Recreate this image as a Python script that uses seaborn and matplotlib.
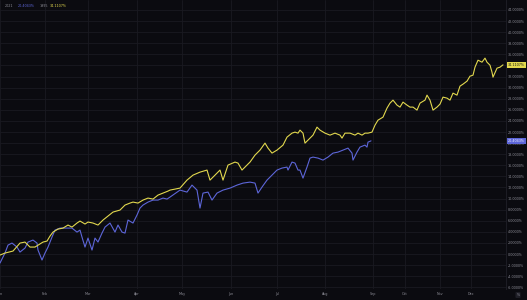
import matplotlib
matplotlib.use("Agg")
import matplotlib.pyplot as plt
import matplotlib.transforms as mtransforms
import seaborn as sns
import pandas as pd

# ---------------- data ----------------
sessions_1995 = [0, 5, 13, 20, 25, 30, 35, 43, 47, 50, 53, 58, 63, 68, 72, 77, 80, 85, 88, 93,
                 98, 103, 108, 113, 120, 125, 130, 133, 138, 143, 148, 153, 158, 163, 168, 170,
                 180, 187, 193, 200, 207, 210, 215, 220, 223, 228, 235, 238, 242, 245, 250, 255,
                 260, 265, 268, 272, 277, 283, 287, 292, 295, 298, 300, 303, 305, 308, 313, 317,
                 320, 325, 330, 335, 340, 342, 345, 350, 355, 358, 362, 365, 368, 372, 375, 378,
                 383, 387, 390, 393, 397, 400, 403, 407, 410, 413, 417, 420, 425, 427, 430, 433,
                 437, 440, 443, 447, 450, 453, 457, 460, 463, 467, 470, 473, 475, 478, 482, 485,
                 487, 490, 492, 493, 497, 500, 503]
pct_1995 = [-0.18, 0.18, 0.54, 1.98, 2.16, 1.26, 1.26, 2.16, 2.34, 3.24, 3.96, 4.50, 4.68, 5.23,
            4.86, 5.59, 5.95, 5.41, 5.77, 5.59, 5.23, 6.13, 6.85, 7.57, 7.93, 8.83, 9.19, 9.37,
            9.19, 9.73, 10.09, 9.91, 10.63, 10.99, 11.35, 11.53, 11.89, 13.33, 14.23, 14.77,
            15.14, 13.33, 14.23, 15.14, 13.33, 16.04, 16.58, 16.40, 15.14, 15.68, 16.58, 17.84,
            18.74, 20.00, 19.10, 18.20, 18.74, 19.64, 21.08, 21.80, 21.98, 21.80, 22.34, 21.80,
            20.00, 20.54, 21.44, 22.88, 22.34, 21.80, 21.44, 21.80, 21.44, 20.90, 21.80, 21.80,
            21.44, 21.80, 21.44, 21.80, 21.80, 21.98, 23.24, 24.14, 24.68, 26.31, 27.21, 27.75,
            26.85, 26.49, 27.39, 26.85, 26.49, 26.49, 25.95, 27.21, 27.75, 28.65, 27.75, 25.95,
            26.49, 27.03, 28.29, 28.11, 27.75, 29.01, 28.65, 30.27, 30.63, 31.17, 32.07, 32.25,
            33.69, 34.95, 34.59, 35.32, 34.59, 34.05, 32.79, 31.89, 33.51, 33.69, 34.1107]

sessions_2021 = [0, 5, 8, 12, 17, 20, 25, 28, 33, 37, 38, 42, 45, 48, 52, 55, 60, 65, 72, 77,
                 80, 82, 85, 88, 92, 95, 98, 102, 105, 110, 115, 118, 122, 125, 128, 133, 137,
                 140, 143, 148, 153, 158, 163, 167, 170, 180, 187, 192, 197, 200, 203, 208, 212,
                 217, 223, 230, 237, 243, 250, 255, 258, 262, 267, 272, 277, 282, 287, 288, 292,
                 295, 298, 300, 303, 307, 310, 313, 318, 323, 328, 333, 338, 343, 348, 352, 353,
                 357, 360, 365, 367, 368, 371]
pct_2021 = [-1.62, 0.18, 1.62, 1.98, 1.26, 0.36, 1.08, 2.16, 2.52, 1.98, 0.72, -1.08, 0.18, 1.26,
            3.06, 4.32, 4.68, 4.68, 4.68, 3.96, 4.32, 3.06, 1.26, 2.88, 0.72, 2.88, 2.16, 3.78,
            4.86, 5.59, 3.96, 5.23, 3.96, 3.78, 6.13, 5.59, 7.03, 8.29, 8.83, 9.37, 9.73, 9.73,
            10.09, 9.91, 10.27, 11.53, 11.17, 12.43, 11.53, 8.29, 10.99, 11.17, 9.73, 10.99,
            11.53, 11.89, 12.43, 12.79, 12.97, 12.79, 10.99, 12.07, 13.33, 14.23, 15.14, 15.50,
            15.68, 15.14, 16.58, 16.40, 15.14, 15.14, 13.69, 15.68, 17.30, 17.48, 17.30, 16.94,
            17.48, 18.20, 18.38, 18.74, 19.10, 18.20, 16.94, 18.38, 19.28, 19.64, 19.28, 20.18,
            20.4043]

month_labels = ["Jan", "Feb", "Mar", "Apr", "May", "Jun", "Jul", "Aug", "Sep", "Oct", "Nov", "Dec"]
month_sessions = [0, 45, 88, 137, 182, 231, 277, 325, 373, 405, 440, 471]

series_names = ["2021", "1995"]
last_values = ["20.4043%", "34.1107%"]

# ---------------- style ----------------
BG = "#0b0b10"
GRID = "#1a1a21"
TXT = "#8b8b95"
YELLOW = "#e2d84e"
BLUE = "#5d66d9"
FS = 2.4

sns.set_theme(style="dark")
plt.rcParams["font.family"] = ["DejaVu Sans"]

df = pd.concat([
    pd.DataFrame({"session": sessions_2021, "pct": pct_2021, "year": "2021"}),
    pd.DataFrame({"session": sessions_1995, "pct": pct_1995, "year": "1995"}),
], ignore_index=True)

fig = plt.figure(figsize=(5.27, 3.0), dpi=100, facecolor=BG)
ax = fig.add_axes([0, 11 / 300, 506 / 527, 289 / 300])
ax.set_facecolor(BG)

sns.lineplot(data=df, x="session", y="pct", hue="year",
             palette={"2021": BLUE, "1995": YELLOW},
             hue_order=["2021", "1995"], linewidth=0.8,
             estimator=None, sort=False, legend=False, ax=ax)

ax.set_xlim(0, 506)
ax.set_ylim(-6.3, 45.8)
ax.set_xlabel("")
ax.set_ylabel("")

yt = list(range(-6, 46, 2))
ax.yaxis.tick_right()
ax.set_yticks(yt)
ax.set_yticklabels([f"{v:.4f}%" for v in yt])
ax.set_xticks(month_sessions)
ax.set_xticklabels(month_labels)
ax.tick_params(axis="both", labelsize=FS, colors=TXT, length=0)
ax.tick_params(axis="y", pad=1.5)
ax.tick_params(axis="x", pad=2.5)

ax.grid(True, color=GRID, linewidth=0.6)
for s in ["top", "left", "bottom"]:
    ax.spines[s].set_visible(False)
ax.spines["right"].set_color("#202028")
ax.spines["right"].set_linewidth(0.6)

# last-value highlight boxes on the price axis
trans = mtransforms.blended_transform_factory(ax.transAxes, ax.transData)
ax.annotate(last_values[1], xy=(1, pct_1995[-1]), xycoords=trans,
            xytext=(1.5, 0), textcoords="offset points", ha="left", va="center",
            fontsize=FS, color="#1a1a10", annotation_clip=False,
            bbox=dict(boxstyle="square,pad=0.4", fc=YELLOW, ec="none"))
ax.annotate(last_values[0], xy=(1, pct_2021[-1]), xycoords=trans,
            xytext=(1.5, 0), textcoords="offset points", ha="left", va="center",
            fontsize=FS, color="#f0f0ff", annotation_clip=False,
            bbox=dict(boxstyle="square,pad=0.4", fc=BLUE, ec="none"))

# top-left legend
ly = 1 - 6 / 300
fig.text(5 / 527, ly, series_names[0], fontsize=FS, color=TXT, va="center")
fig.text(18 / 527, ly, last_values[0], fontsize=FS, color=BLUE, va="center")
fig.text(40 / 527, ly, series_names[1], fontsize=FS, color=TXT, va="center")
fig.text(50 / 527, ly, last_values[1], fontsize=FS, color=YELLOW, va="center")

# small percent-scale toggle bottom right
fig.text(518 / 527, 1 - 295 / 300, "%", fontsize=FS, color=TXT, va="center", ha="center",
         bbox=dict(boxstyle="round,pad=0.3", fc="#1e1e26", ec="none"))

fig.savefig("out.png", dpi=100, facecolor=BG)
